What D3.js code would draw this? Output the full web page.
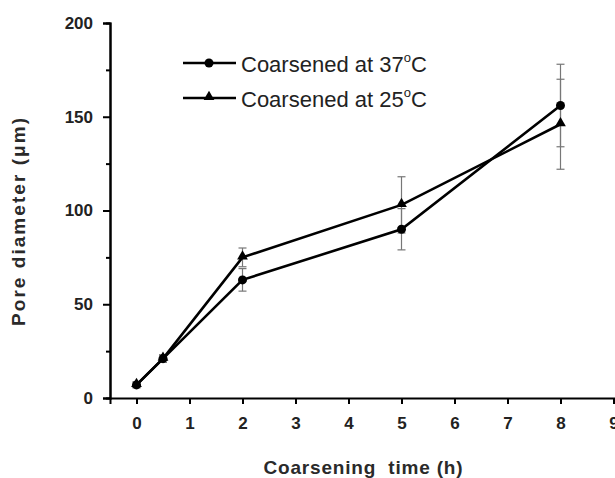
<!DOCTYPE html>
<html>
<head>
<meta charset="utf-8">
<script src="https://cdn.jsdelivr.net/npm/d3@7"></script>
<style>
  body { margin: 0; background: #fff; }
  text { font-family: "Liberation Sans", Arial, sans-serif; }
</style>
</head>
<body>
<div id="chart"></div>
<script>
// data
var times = [0, 0.5, 2, 5, 8];
var pore37 = [7, 21, 63, 90, 156];
var err37 = [1.5, 2, 6, 11, 22];
var pore25 = [7, 21, 75, 103, 146];
var err25 = [1.5, 2, 5, 15, 24];
var seriesNames = ["Coarsened at 37", "Coarsened at 25"];
var xTicks = [0, 1, 2, 3, 4, 5, 6, 7, 8, 9];
var yTicks = [0, 50, 100, 150, 200];
var yMinor = [25, 75, 125, 175];

var W = 615, H = 478;
var svg = d3.select("#chart").append("svg")
    .attr("width", W).attr("height", H);

var x = d3.scaleLinear().domain([-0.5, 9.5]).range([110, 640]);
var y = d3.scaleLinear().domain([0, 200]).range([398, 23]);

// axes
svg.append("g")
    .attr("transform", "translate(110,0)")
    .call(d3.axisLeft(y).tickValues(yTicks).tickSize(7).tickPadding(10));
svg.append("g")
    .attr("transform", "translate(110,0)")
    .call(d3.axisLeft(y).tickValues(yMinor).tickSize(4).tickFormat(""));
svg.append("g")
    .attr("transform", "translate(0,398)")
    .call(d3.axisBottom(x).tickValues(xTicks).tickSize(6).tickPadding(13));

svg.selectAll(".domain").attr("stroke", "#000").attr("stroke-width", 2);
svg.selectAll(".tick line").attr("stroke", "#000").attr("stroke-width", 2);
svg.selectAll(".tick text")
    .style("font-size", "17px").style("font-weight", "bold")
    .attr("fill", "#222")
    .style("font-family", "'Liberation Sans', Arial, sans-serif");

// axis titles
svg.append("text")
    .attr("transform", "translate(25,222) rotate(-90)")
    .attr("text-anchor", "middle")
    .style("font-size", "19px").style("font-weight", "bold")
    .attr("fill", "#2a2a2a")
    .attr("textLength", 208).attr("lengthAdjust", "spacing")
    .text("Pore diameter (\u03bcm)");
svg.append("text")
    .attr("x", 363).attr("y", 474)
    .attr("text-anchor", "middle")
    .style("font-size", "19px").style("font-weight", "bold")
    .attr("fill", "#2a2a2a")
    .style("white-space", "pre")
    .attr("textLength", 199).attr("lengthAdjust", "spacing")
    .text("Coarsening  time (h)");

var line = d3.line()
    .x(function(d) { return x(d.t); })
    .y(function(d) { return y(d.v); });

function pack(vals, errs) {
  return times.map(function(t, i) { return {t: t, v: vals[i], e: errs[i]}; });
}
var d37 = pack(pore37, err37), d25 = pack(pore25, err25);

// error bars
function errorBars(data) {
  var g = svg.append("g").attr("stroke", "#777").attr("stroke-width", 1.2);
  data.forEach(function(d) {
    g.append("line").attr("x1", x(d.t)).attr("x2", x(d.t))
      .attr("y1", y(d.v - d.e)).attr("y2", y(d.v + d.e));
    [d.v - d.e, d.v + d.e].forEach(function(v) {
      g.append("line").attr("x1", x(d.t) - 4).attr("x2", x(d.t) + 4)
        .attr("y1", y(v)).attr("y2", y(v));
    });
  });
}
errorBars(d37);
errorBars(d25);

var sym = d3.symbol().type(d3.symbolTriangle).size(50);

[d37, d25].forEach(function(data, k) {
  svg.append("path").datum(data)
    .attr("fill", "none").attr("stroke", "#000").attr("stroke-width", 2.6)
    .attr("d", line);
  if (k === 0) {
    svg.selectAll(".c37").data(data).enter().append("circle")
      .attr("cx", function(d) { return x(d.t); })
      .attr("cy", function(d) { return y(d.v); })
      .attr("r", 4.5).attr("fill", "#000");
  } else {
    svg.selectAll(".t25").data(data).enter().append("path")
      .attr("d", sym)
      .attr("transform", function(d) { return "translate(" + x(d.t) + "," + (y(d.v) - 1) + ")"; })
      .attr("fill", "#000");
  }
});

// legend
var legY = [63, 98];
seriesNames.forEach(function(name, i) {
  var g = svg.append("g");
  g.append("line").attr("x1", 183).attr("x2", 236)
    .attr("y1", legY[i]).attr("y2", legY[i])
    .attr("stroke", "#000").attr("stroke-width", 2.6);
  if (i === 0) {
    g.append("circle").attr("cx", 209).attr("cy", legY[i]).attr("r", 4.5).attr("fill", "#000");
  } else {
    g.append("path").attr("d", sym).attr("transform", "translate(209," + (legY[i] - 1) + ")").attr("fill", "#000");
  }
  var t = g.append("text").attr("x", 241).attr("y", legY[i] + 9)
    .style("font-size", "22px").attr("fill", "#222");
  t.append("tspan").text(name);
  t.append("tspan").attr("dy", -10).style("font-size", "13px").text("o");
  t.append("tspan").attr("dy", 10).text("C");
});
</script>
</body>
</html>
